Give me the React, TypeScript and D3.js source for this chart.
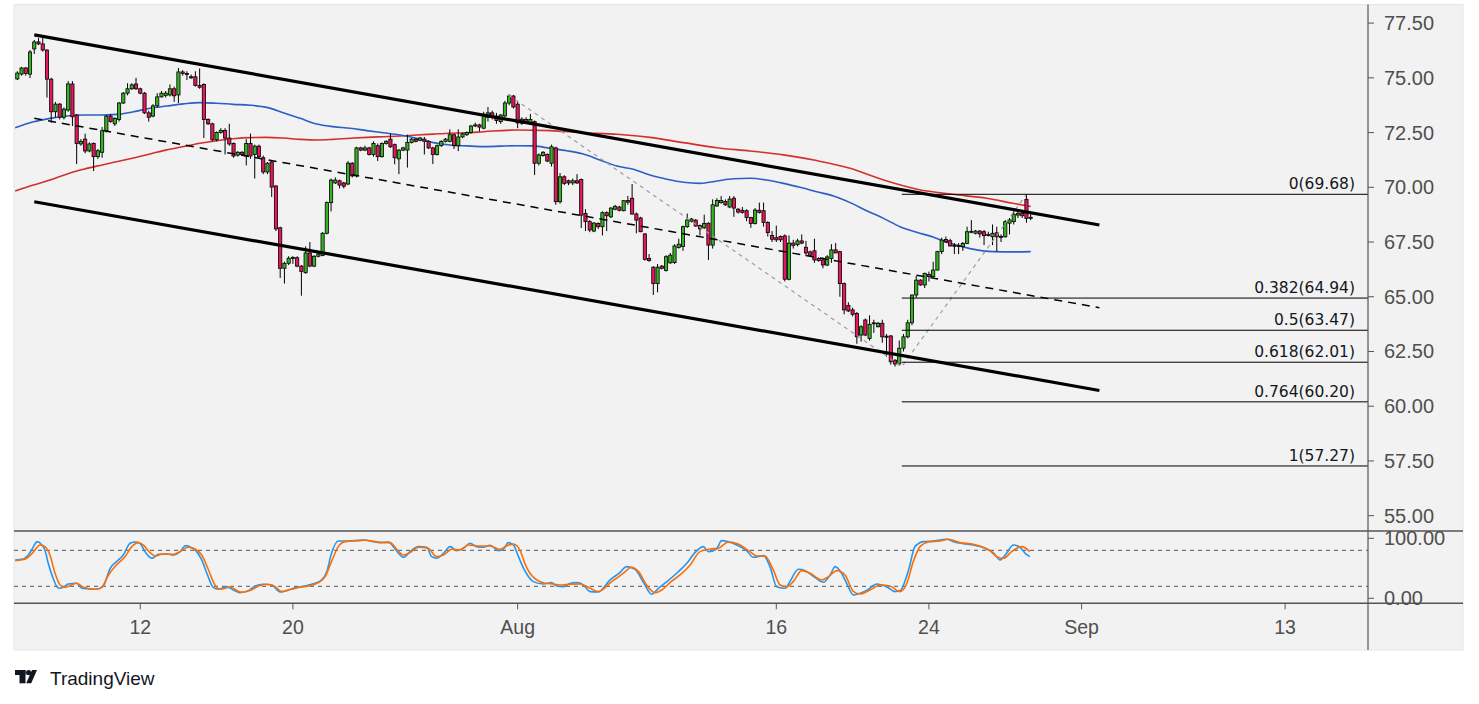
import * as d3 from "d3";

// 4h bars, [open, high, low, close]
const OHLC: [number, number, number, number][] = [
  [74.95, 75.3, 74.9, 75.22], [75.17, 75.5, 75.1, 75.45], [75.45, 75.5, 75.1, 75.2], [75.17, 76.27, 74.99, 76.18],
  [76.32, 76.73, 76.09, 76.64], [76.64, 76.82, 76.5, 76.55], [76.55, 76.9, 76.2, 76.27], [76.27, 76.3, 74.1, 74.94],
  [74.94, 75.0, 72.94, 73.45], [73.45, 73.9, 73.2, 73.8], [73.8, 73.85, 73.1, 73.2], [73.2, 73.65, 73.1, 73.57],
  [73.53, 74.85, 73.45, 74.72], [74.72, 74.85, 72.8, 73.22], [73.3, 73.35, 71.06, 72.0], [71.98, 72.2, 71.9, 72.1],
  [72.2, 72.45, 71.55, 71.66], [71.66, 72.05, 71.6, 71.98], [72.0, 72.05, 70.74, 71.4], [71.4, 71.75, 71.3, 71.67],
  [71.6, 72.75, 71.35, 72.58], [72.58, 73.3, 72.5, 73.25], [73.25, 73.35, 72.95, 73.0], [72.9, 73.2, 72.8, 73.15],
  [73.1, 73.9, 73.0, 73.85], [73.85, 74.35, 73.8, 74.3], [74.3, 74.75, 74.2, 74.5], [74.5, 74.75, 74.45, 74.68],
  [74.72, 75.0, 74.45, 74.5], [74.5, 74.55, 74.25, 74.3], [74.3, 74.35, 73.35, 73.4], [73.4, 73.5, 73.0, 73.2],
  [73.25, 73.8, 73.2, 73.72], [73.72, 74.3, 73.65, 74.13], [74.13, 74.4, 74.1, 74.3], [74.2, 74.4, 74.1, 74.3],
  [74.22, 74.7, 74.15, 74.5], [74.5, 74.6, 73.9, 74.18], [74.22, 75.45, 73.85, 75.27], [75.27, 75.35, 75.1, 75.2],
  [75.2, 75.3, 74.9, 75.15], [75.05, 75.15, 74.95, 75.0], [75.05, 75.3, 74.6, 74.65], [74.65, 75.43, 74.5, 74.57],
  [74.7, 74.75, 72.25, 73.1], [73.1, 73.15, 72.85, 72.9], [72.9, 72.95, 72.1, 72.17], [72.17, 72.55, 72.1, 72.5],
  [72.5, 72.7, 72.45, 72.6], [72.6, 72.7, 71.5, 72.25], [72.25, 72.9, 71.9, 71.98], [72.0, 72.05, 71.35, 71.43],
  [71.47, 71.65, 71.4, 71.6], [71.6, 71.65, 71.45, 71.5], [71.43, 72.2, 71.0, 72.0], [72.0, 72.45, 71.3, 71.43],
  [71.5, 71.95, 70.4, 71.88], [71.88, 71.95, 71.3, 71.4], [71.35, 71.45, 70.6, 70.7], [70.7, 71.15, 70.6, 71.1],
  [71.16, 71.2, 69.56, 70.01], [70.06, 70.1, 68.0, 68.1], [68.15, 68.2, 65.86, 66.3], [66.3, 66.6, 65.6, 66.53],
  [66.53, 66.85, 66.45, 66.76], [66.78, 66.85, 66.5, 66.8], [66.78, 66.85, 66.35, 66.4], [66.4, 66.45, 65.05, 66.15],
  [66.1, 67.3, 66.05, 67.0], [67.0, 67.5, 66.35, 66.4], [66.4, 66.9, 66.35, 66.85], [66.85, 67.0, 66.8, 66.95],
  [66.88, 67.95, 66.85, 67.9], [67.9, 69.35, 67.85, 69.3], [69.3, 70.4, 68.9, 70.33], [70.2, 70.45, 70.15, 70.33],
  [70.3, 70.35, 69.95, 70.1], [70.2, 70.25, 69.95, 70.05], [70.15, 71.2, 70.1, 71.1], [71.1, 71.15, 70.45, 70.52],
  [70.52, 71.85, 70.45, 71.8], [71.8, 71.85, 71.65, 71.7], [71.7, 71.9, 71.65, 71.8], [71.8, 71.85, 71.45, 71.5],
  [71.5, 72.1, 71.4, 72.0], [71.9, 72.0, 71.2, 71.4], [71.4, 72.05, 71.35, 72.0], [72.0, 72.15, 71.95, 72.1],
  [72.2, 72.45, 71.8, 71.85], [71.95, 72.0, 71.05, 71.35], [71.3, 71.75, 70.6, 71.7], [71.7, 71.85, 71.65, 71.8],
  [71.7, 72.4, 70.9, 72.05], [72.05, 72.25, 72.0, 72.2], [72.2, 72.25, 72.05, 72.1], [72.15, 72.3, 72.1, 72.25],
  [72.2, 72.3, 71.5, 72.1], [72.1, 72.15, 71.75, 71.8], [71.8, 71.85, 71.06, 71.5], [71.5, 71.95, 71.45, 71.9],
  [71.9, 72.15, 71.85, 72.1], [72.1, 72.25, 72.05, 72.2], [72.1, 72.65, 72.05, 72.4], [72.4, 72.45, 71.75, 71.9],
  [71.9, 72.65, 71.65, 72.3], [72.3, 72.5, 72.25, 72.44], [72.4, 72.55, 72.35, 72.5], [72.5, 72.85, 72.45, 72.8],
  [72.8, 72.95, 72.75, 72.85], [72.85, 72.9, 72.55, 72.75], [72.7, 73.45, 72.65, 73.3], [73.2, 73.67, 73.0, 73.4],
  [73.4, 73.5, 73.1, 73.2], [73.25, 73.4, 72.9, 73.05], [73.0, 73.35, 72.9, 73.3], [73.26, 73.95, 73.2, 73.85],
  [73.85, 74.25, 73.75, 74.17], [74.17, 74.22, 73.6, 73.67], [73.8, 73.95, 72.7, 72.94], [72.93, 73.2, 72.85, 73.11],
  [73.1, 73.2, 72.9, 72.95], [72.9, 73.35, 72.85, 73.1], [73.0, 73.05, 70.56, 71.1], [71.1, 71.55, 71.0, 71.48],
  [71.45, 71.65, 71.4, 71.6], [71.5, 71.55, 71.15, 71.2], [71.1, 71.95, 70.95, 71.85], [71.8, 71.85, 69.2, 69.34],
  [69.34, 70.65, 69.25, 70.48], [70.48, 70.55, 70.1, 70.18], [70.3, 70.35, 70.1, 70.2], [70.2, 70.4, 70.1, 70.3],
  [70.3, 70.6, 70.15, 70.2], [70.36, 70.4, 68.14, 68.73], [68.8, 69.0, 68.0, 68.43], [68.43, 68.5, 67.95, 68.05],
  [68.0, 68.4, 67.95, 68.37], [68.35, 68.4, 68.1, 68.2], [68.2, 68.9, 67.8, 68.84], [68.84, 68.9, 68.0, 68.7],
  [68.65, 69.1, 68.6, 69.05], [69.0, 69.2, 68.95, 69.12], [69.1, 69.15, 68.9, 68.95], [68.93, 69.4, 68.9, 69.39],
  [69.4, 69.6, 69.2, 69.32], [69.5, 70.15, 68.75, 68.78], [68.78, 68.85, 67.9, 68.5], [68.6, 68.65, 67.95, 67.97],
  [67.87, 67.9, 66.65, 66.71], [66.75, 66.95, 66.6, 66.65], [66.35, 66.4, 65.08, 65.6], [65.6, 66.5, 65.2, 66.35],
  [66.4, 66.45, 66.25, 66.3], [66.2, 66.9, 66.15, 66.83], [66.55, 67.0, 66.5, 66.9], [66.56, 67.4, 66.5, 67.32],
  [67.25, 67.65, 67.2, 67.4], [67.3, 68.25, 67.1, 68.2], [68.2, 68.8, 68.15, 68.51], [68.45, 68.6, 68.4, 68.55],
  [68.5, 68.55, 68.2, 68.23], [68.25, 68.3, 67.8, 68.1], [68.15, 68.75, 68.1, 68.35], [68.36, 68.4, 66.68, 67.36],
  [67.36, 69.45, 67.2, 69.2], [69.15, 69.5, 69.1, 69.4], [69.3, 69.6, 69.25, 69.4], [69.35, 69.45, 69.15, 69.2],
  [69.1, 69.6, 69.05, 69.46], [69.5, 69.6, 68.65, 69.05], [69.0, 69.05, 68.8, 68.87], [68.95, 69.1, 68.8, 68.85],
  [68.93, 69.0, 68.45, 68.62], [68.62, 68.65, 68.15, 68.35], [68.35, 69.05, 68.3, 68.96], [68.95, 69.3, 68.8, 68.85],
  [68.93, 69.3, 68.2, 68.39], [68.39, 68.45, 67.75, 67.93], [67.8, 68.0, 67.5, 67.63], [67.7, 68.25, 67.5, 67.6],
  [67.75, 67.8, 67.5, 67.6], [67.78, 67.85, 65.7, 65.8], [65.8, 67.8, 65.75, 67.45], [67.45, 67.6, 67.2, 67.35],
  [67.38, 67.65, 67.3, 67.55], [67.55, 67.85, 67.4, 67.45], [67.26, 67.55, 66.85, 67.0], [67.05, 67.1, 66.85, 66.9],
  [67.1, 67.65, 66.55, 66.68], [66.75, 66.8, 66.6, 66.65], [66.68, 66.8, 66.3, 66.45], [66.45, 66.9, 66.4, 66.82],
  [66.75, 67.4, 66.55, 67.14], [67.14, 67.45, 67.05, 67.0], [67.06, 67.1, 65.0, 65.6], [65.6, 65.65, 64.2, 64.4],
  [64.6, 64.75, 64.3, 64.35], [64.4, 64.5, 64.1, 64.2], [64.24, 64.3, 62.85, 63.17], [63.25, 63.7, 62.95, 63.63],
  [63.94, 64.0, 63.2, 63.25], [63.09, 64.15, 63.0, 63.74], [63.8, 63.95, 63.35, 63.81], [63.63, 63.85, 63.6, 63.79],
  [63.79, 63.95, 62.9, 63.17], [63.2, 63.3, 62.26, 63.15], [63.21, 63.25, 61.9, 62.03], [62.1, 62.15, 61.81, 61.93],
  [61.93, 63.0, 61.85, 62.65], [62.65, 63.3, 62.5, 63.17], [63.17, 63.95, 63.1, 63.81], [63.81, 65.1, 63.7, 65.08],
  [65.08, 65.95, 64.95, 65.76], [65.76, 65.8, 65.5, 65.54], [65.54, 66.1, 65.4, 66.07], [66.02, 66.15, 65.7, 65.92],
  [65.92, 66.6, 65.85, 66.22], [66.22, 67.1, 66.2, 67.06], [67.06, 67.7, 66.95, 67.59], [67.62, 67.75, 67.45, 67.51],
  [67.56, 67.65, 67.3, 67.32], [67.35, 67.45, 66.95, 67.33], [67.35, 67.45, 66.95, 67.3], [67.29, 67.5, 67.1, 67.44],
  [67.44, 68.2, 67.4, 67.97], [67.97, 68.5, 67.9, 67.99], [67.9, 68.05, 67.85, 68.0], [68.0, 68.05, 67.7, 67.87],
  [67.97, 68.05, 67.36, 67.79], [67.82, 67.97, 67.75, 67.84], [67.74, 68.3, 67.36, 67.9], [67.92, 68.2, 67.06, 67.74],
  [67.74, 67.85, 67.5, 67.76], [67.74, 68.5, 67.7, 68.43], [68.36, 68.6, 67.85, 68.51], [68.43, 68.95, 68.3, 68.77],
  [68.73, 68.95, 68.6, 68.81], [68.81, 68.9, 68.6, 68.7], [69.45, 69.68, 68.38, 68.58], [68.6, 68.85, 68.5, 68.63],
];

// moving averages, [bar, price]
const MA_BLUE: [number, number][] = [
  [-0.5, 72.72], [3.8, 72.99], [7.7, 73.15], [11.6, 73.26], [15.6, 73.3], [19.5, 73.3], [23.4, 73.33], [27.4, 73.45],
  [31.3, 73.61], [35.2, 73.71], [39.2, 73.81], [43.1, 73.87], [47, 73.84], [50.9, 73.79], [54.9, 73.75], [58.8, 73.65],
  [62.7, 73.41], [66.7, 73.15], [70.6, 72.89], [74.5, 72.77], [78.5, 72.7], [82.4, 72.59], [86.3, 72.49], [90.3, 72.39],
  [94.2, 72.24], [98.1, 72.04], [102, 71.93], [106, 71.89], [110, 71.86], [117.8, 71.9], [121.7, 71.89], [125.6, 71.78],
  [129.6, 71.67], [133.5, 71.52], [137.4, 71.25], [141.4, 70.97], [145.3, 70.82], [149.2, 70.56], [153.2, 70.37],
  [157.1, 70.23], [161, 70.18], [165, 70.29], [168.9, 70.39], [172.8, 70.41], [176.7, 70.33], [180.7, 70.18],
  [184.6, 70.0], [188.5, 69.8], [192.5, 69.6], [196.4, 69.3], [200.3, 68.93], [204.3, 68.58], [208.2, 68.2],
  [212.1, 67.95], [216.1, 67.72], [220, 67.44], [224.7, 67.2], [230.2, 67.06], [235, 67.05], [239, 67.06],
];
const MA_RED: [number, number][] = [
  [-0.5, 69.83], [3.8, 70.1], [7.7, 70.33], [11.6, 70.6], [15.6, 70.82], [19.5, 71.0], [23.4, 71.17], [27.4, 71.34],
  [31.3, 71.52], [35.2, 71.71], [39.2, 71.86], [43.1, 72.01], [47, 72.13], [50.9, 72.22], [54.9, 72.27], [58.8, 72.28],
  [62.7, 72.25], [66.7, 72.19], [70.6, 72.16], [74.5, 72.19], [78.5, 72.24], [82.4, 72.28], [86.3, 72.31], [90.3, 72.34],
  [94.2, 72.39], [98.1, 72.43], [102, 72.47], [106, 72.49], [110, 72.54], [117.8, 72.62], [125.6, 72.59], [133.5, 72.49],
  [141.4, 72.42], [149.2, 72.28], [157.1, 72.04], [165, 71.81], [172.8, 71.66], [180.7, 71.48], [188.5, 71.22],
  [196.4, 70.87], [204.3, 70.33], [212.5, 69.9], [220.5, 69.68], [228.6, 69.5], [234.8, 69.27], [239, 69.12],
];

// stochastic %K (blue) and %D (orange), [bar, value]
const STOCH_K: [number, number][] = [
  [-0.5, 63.9], [1.4, 65.6], [2.6, 72.2], [3.6, 83.3], [4.7, 94.4], [5.8, 88.9], [6.5, 80.6], [7.3, 58.3], [8.3, 36.1],
  [9.7, 16.7], [10.9, 18.3], [12, 23.9], [14, 25], [15.2, 16.7], [17.2, 15.6], [18.7, 15], [20.3, 20.6], [21.9, 50],
  [23.4, 61.1], [25, 72.2], [26.6, 91.7], [27.8, 93.9], [28.9, 91.7], [30.1, 77.8], [31.7, 66.7], [33.3, 73.3],
  [35.2, 73.9], [36.8, 72.2], [38.4, 77.8], [39.7, 87.8], [41.1, 84.4], [42.3, 77.8], [43.5, 63.9], [44.7, 41.7],
  [46.2, 18.3], [47.4, 15], [49.4, 19.4], [51, 13.9], [52.5, 9.4], [54.5, 12.8], [56.1, 20.6], [58, 23.3], [60, 22.2],
  [62, 10.6], [63.9, 13.9], [65.9, 18.3], [68.3, 21.1], [70.2, 25], [71.8, 30.6], [73, 44.4], [74.1, 75], [75.7, 95.6],
  [77.7, 95.6], [80, 96.1], [82, 97.2], [84, 94.4], [85.6, 92.8], [87.5, 93.9], [88.7, 86.1], [89.9, 75], [91.1, 68.3],
  [92.6, 77.8], [94.6, 86.1], [96.6, 85], [97.7, 69.4], [98.9, 66.7], [100.5, 75], [102.1, 86.1], [103.6, 79.4],
  [105.2, 83.3], [106.8, 91.7], [108.3, 86.1], [109.9, 85], [111.5, 88.3], [113.5, 79.4], [114.6, 81.7], [115.8, 92.8],
  [117, 88.9], [118.2, 69.4], [119.4, 50], [120.3, 38.9], [121.7, 27.8], [124.1, 23.9], [126, 26.1], [127.2, 20.6],
  [128.8, 19.4], [130, 23.9], [131.9, 26.1], [133.5, 22.2], [135.1, 11.1], [137, 10.6], [139.8, 30.6], [142.1, 42.8],
  [143.7, 52.8], [145.7, 48.3], [147.7, 26.1], [149.6, 6.7], [151.2, 16.7], [153.2, 27.8], [155.5, 41.7], [157.9, 58.3],
  [159.8, 76.1], [161.8, 86.1], [163, 77.8], [164.9, 82.2], [166.1, 96.1], [167.7, 94.4], [169.7, 88.9], [172, 79.4],
  [173.6, 68.3], [176, 71.1], [177.5, 52.8], [179.1, 19.4], [181.1, 16.7], [182.2, 27.8], [184.2, 48.3], [185.8, 46.1],
  [188.1, 35], [190.1, 26.7], [191.7, 38.9], [192.9, 52.8], [194.4, 41.7], [195.6, 25], [197.2, 5.6], [198.8, 8.3],
  [200.7, 15], [202.7, 23.9], [205, 19.4], [207, 11.1], [208.2, 12.8], [210.2, 47.2], [211.7, 86.1], [213.7, 94.4],
  [216, 95.6], [219.2, 98.3], [220.8, 94.4], [223.1, 91.1], [225.5, 88.9], [228.6, 82.2], [230.2, 75.6], [231.8, 63.9],
  [233.3, 75], [234.9, 88.9], [236.5, 85], [237.7, 75], [238.8, 69.4],
];
const STOCH_D: [number, number][] = [
  [-0.5, 62.8], [1.8, 65], [3.4, 73.9], [5.4, 88.9], [6.5, 86.1], [7.7, 72.2], [8.9, 41.7], [10.1, 22.2], [11.3, 18.3],
  [14, 25], [15.6, 18.3], [18.3, 15], [19.9, 18.3], [21.5, 38.9], [23.4, 55.6], [25.4, 69.4], [27, 86.1], [28.6, 92.8],
  [29.7, 88.9], [31.3, 76.1], [32.5, 70.6], [34.4, 73.9], [36.8, 73.3], [38.4, 77.8], [40.3, 85], [41.9, 82.2],
  [43.5, 72.2], [45.1, 47.2], [46.6, 22.2], [47.8, 15], [50.2, 18.3], [52.9, 10], [54.9, 12.8], [56.9, 20.6],
  [58.8, 23.3], [60.8, 19.4], [62.4, 11.1], [64.7, 15], [66.7, 18.3], [69, 21.1], [71, 26.1], [72.6, 36.1], [74.1, 61.1],
  [75.7, 86.1], [77.3, 94.4], [80, 96.1], [82, 96.7], [84, 95], [86.3, 92.8], [87.9, 92.8], [89.5, 81.7], [91.1, 72.2],
  [92.6, 76.1], [94.6, 85], [96.9, 83.3], [98.9, 69.4], [100.5, 72.2], [102.5, 81.7], [104.4, 80.6], [106.4, 88.9],
  [109.1, 87.2], [111.5, 87.2], [113.9, 81.7], [115.4, 87.2], [117, 90.6], [118.6, 79.4], [119.7, 58.3], [120.9, 41.7],
  [122.5, 30.6], [124.5, 25], [126.4, 23.9], [128.4, 22.2], [130.4, 23.3], [132.7, 23.9], [134.7, 18.3], [137, 11.1],
  [140.2, 27.8], [142.9, 41.7], [144.9, 51.7], [146.5, 44.4], [148.4, 22.2], [150.4, 9.4], [152, 13.9], [153.9, 26.1],
  [156.3, 38.9], [158.7, 55.6], [161, 77.8], [163.4, 82.2], [165.3, 83.3], [167.7, 93.9], [170, 90.6], [172.8, 77.8],
  [174.4, 70.6], [176.3, 70.6], [178.3, 47.2], [179.9, 22.2], [181.5, 19.4], [183, 27.8], [185, 46.1], [187, 41.7],
  [189.7, 30.6], [191.3, 36.1], [193.3, 46.1], [195.2, 38.9], [197.2, 11.1], [198.8, 7.2], [201.1, 13.9], [203.5, 22.2],
  [205.8, 20.6], [208.2, 11.1], [209.8, 25], [211.3, 61.1], [212.9, 86.1], [214.9, 93.9], [217.6, 95.6], [219.6, 98.3],
  [222.3, 92.8], [225.5, 90], [229.4, 79.4], [231, 69.4], [232.6, 66.7], [234.5, 77.8], [236.9, 86.1], [238.8, 77.8],
];

// drawings: channel, abc swing, fib extension
const CHANNEL_UPPER: [number, number][] = [[4, 76.96], [255.2, 68.28]];
const CHANNEL_MID: [number, number][] = [[4, 73.15], [255.2, 64.5]];
const CHANNEL_LOWER: [number, number][] = [[4, 69.34], [255.2, 60.72]];
const SWING: [number, number][] = [[115.8, 74.22], [208.6, 61.81], [238, 69.68]];
const FIB_START_BAR = 208.6;
const FIB_LEVELS = ["0", "0.382", "0.5", "0.618", "0.764", "1"];
const FIB_PRICES = [69.68, 64.94, 63.47, 62.01, 60.2, 57.27];

const PRICE_TICKS = [55, 57.5, 60, 62.5, 65, 67.5, 70, 72.5, 75, 77.5];
const STOCH_TICKS = [0, 100];
const STOCH_BANDS = [20, 80];
const TIME_BARS = [29, 65, 118, 179, 215, 251, 299];
const TIME_LABELS = ["12", "20", "Aug", "16", "24", "Sep", "13"];

const W = 1479;
const H = 704;
const LEFT = 14;
const AXIS_X = 1368;
const OUTER_RIGHT = 1463;
const TOP = 4.5;
const PRICE_BOTTOM = 531;
const STOCH_BOTTOM = 603.3;
const BOTTOM = 650;

const UP = "#36b324";
const DOWN = "#e8175d";
const AXIS_FONT = "'Liberation Sans', Arial, sans-serif";

export default function App() {
  const x = d3.scaleLinear().domain([0, 239]).range([17.3, 1030.7]);
  const y = d3.scaleLinear().domain([54.3, 78.35]).range([PRICE_BOTTOM, TOP]);
  const ys = d3.scaleLinear().domain([0, 100]).range([598.3, 538.3]);

  const priceLine = d3
    .line<[number, number]>()
    .x((d) => x(d[0]))
    .y((d) => y(d[1]));
  const smoothPrice = priceLine.curve(d3.curveMonotoneX);
  const maPath = (pts: [number, number][]) =>
    d3.line<[number, number]>().x((d) => x(d[0])).y((d) => y(d[1])).curve(d3.curveMonotoneX)(pts) ?? "";
  const stochPath = (pts: [number, number][]) =>
    d3.line<[number, number]>().x((d) => x(d[0])).y((d) => ys(d[1])).curve(d3.curveMonotoneX)(pts) ?? "";
  const straight = (pts: [number, number][]) =>
    d3.line<[number, number]>().x((d) => x(d[0])).y((d) => y(d[1]))(pts) ?? "";
  void smoothPrice;

  const bodyW = 3.2;

  return (
    <div style={{ position: "absolute", left: 0, top: 0 }}>
      <svg width={W} height={H} style={{ display: "block", background: "#ffffff" }}>
        <defs>
          <clipPath id="pricePane">
            <rect x={LEFT} y={TOP} width={AXIS_X - LEFT} height={PRICE_BOTTOM - TOP} />
          </clipPath>
          <clipPath id="stochPane">
            <rect x={LEFT} y={PRICE_BOTTOM} width={AXIS_X - LEFT} height={STOCH_BOTTOM - PRICE_BOTTOM} />
          </clipPath>
        </defs>

        {/* chart background */}
        <rect
          x={LEFT}
          y={TOP}
          width={OUTER_RIGHT - LEFT}
          height={BOTTOM - TOP}
          fill="#f2f2f2"
          stroke="#e4e6ea"
          strokeWidth={1}
        />

        {/* price pane */}
        <g clipPath="url(#pricePane)">
          <path d={maPath(MA_RED)} fill="none" stroke="#d32f2f" strokeWidth={1.6} />
          <path d={maPath(MA_BLUE)} fill="none" stroke="#2b5fc5" strokeWidth={1.6} />

          {OHLC.map(([o, h, l, c], i) => {
            const cx = x(i);
            const top = y(Math.max(o, c));
            const bh = Math.max(1, Math.abs(y(o) - y(c)));
            return (
              <g key={i}>
                <line x1={cx} x2={cx} y1={y(h)} y2={y(l)} stroke="#000" strokeWidth={1} />
                <rect
                  x={cx - bodyW / 2}
                  y={top}
                  width={bodyW}
                  height={bh}
                  fill={c >= o ? UP : DOWN}
                  stroke="#000"
                  strokeWidth={0.8}
                />
              </g>
            );
          })}

          <path d={straight(SWING)} fill="none" stroke="#9e9e9e" strokeWidth={1.2} strokeDasharray="4,4" />

          <path d={straight(CHANNEL_UPPER)} fill="none" stroke="#000" strokeWidth={3.2} />
          <path d={straight(CHANNEL_LOWER)} fill="none" stroke="#000" strokeWidth={3.2} />
          <path d={straight(CHANNEL_MID)} fill="none" stroke="#000" strokeWidth={1.5} strokeDasharray="8,6" />

          {FIB_PRICES.map((p, i) => (
            <g key={i}>
              <line x1={x(FIB_START_BAR)} x2={AXIS_X} y1={y(p)} y2={y(p)} stroke="#000" strokeWidth={1} />
              <text
                x={1355}
                y={y(p) - 5}
                textAnchor="end"
                fontFamily="'DejaVu Sans', Verdana, sans-serif"
                fontSize={15.5}
                fill="#131722"
              >
                {`${FIB_LEVELS[i]}(${p.toFixed(2)})`}
              </text>
            </g>
          ))}
        </g>

        {/* stochastic pane */}
        <g clipPath="url(#stochPane)">
          {STOCH_BANDS.map((v) => (
            <line
              key={v}
              x1={LEFT}
              x2={AXIS_X}
              y1={ys(v)}
              y2={ys(v)}
              stroke="#555"
              strokeWidth={1}
              strokeDasharray="4,4"
            />
          ))}
          <path d={stochPath(STOCH_K)} fill="none" stroke="#2196f3" strokeWidth={1.6} />
          <path d={stochPath(STOCH_D)} fill="none" stroke="#ff6d00" strokeWidth={1.6} />
        </g>

        {/* pane separators and axes */}
        <line x1={LEFT} x2={OUTER_RIGHT} y1={PRICE_BOTTOM} y2={PRICE_BOTTOM} stroke="#555" strokeWidth={1.4} />
        <line x1={LEFT} x2={OUTER_RIGHT} y1={STOCH_BOTTOM} y2={STOCH_BOTTOM} stroke="#555" strokeWidth={1.4} />
        <line x1={AXIS_X} x2={AXIS_X} y1={TOP} y2={BOTTOM} stroke="#555" strokeWidth={1.2} />

        {PRICE_TICKS.map((p) => (
          <g key={p}>
            <line x1={AXIS_X} x2={AXIS_X + 6} y1={y(p)} y2={y(p)} stroke="#555" strokeWidth={1} />
            <text x={1384} y={y(p) + 7} fontFamily={AXIS_FONT} fontSize={20} fill="#4f4f4f">
              {p.toFixed(2)}
            </text>
          </g>
        ))}
        {STOCH_TICKS.map((v) => (
          <g key={v}>
            <line x1={AXIS_X} x2={AXIS_X + 6} y1={ys(v)} y2={ys(v)} stroke="#555" strokeWidth={1} />
            <text x={1384} y={ys(v) + 7} fontFamily={AXIS_FONT} fontSize={20} fill="#4f4f4f">
              {v.toFixed(2)}
            </text>
          </g>
        ))}

        {TIME_BARS.map((b, i) => (
          <g key={b}>
            <line x1={x(b)} x2={x(b)} y1={STOCH_BOTTOM} y2={STOCH_BOTTOM + 6} stroke="#555" strokeWidth={1} />
            <text x={x(b)} y={634} textAnchor="middle" fontFamily={AXIS_FONT} fontSize={19.5} fill="#4f4f4f">
              {TIME_LABELS[i]}
            </text>
          </g>
        ))}

        {/* TradingView mark */}
        <g fill="#131722">
          <rect x={15} y={670} width={10.5} height={5} />
          <rect x={19.5} y={670} width={6} height={13.3} />
          <circle cx={28.6} cy={672.6} r={2.6} />
          <polygon points="32,670 37,670 31.2,683.3 26.2,683.3" />
        </g>
        <text x={50} y={685} fontFamily={AXIS_FONT} fontSize={19} fill="#131722">
          TradingView
        </text>
      </svg>
    </div>
  );
}
